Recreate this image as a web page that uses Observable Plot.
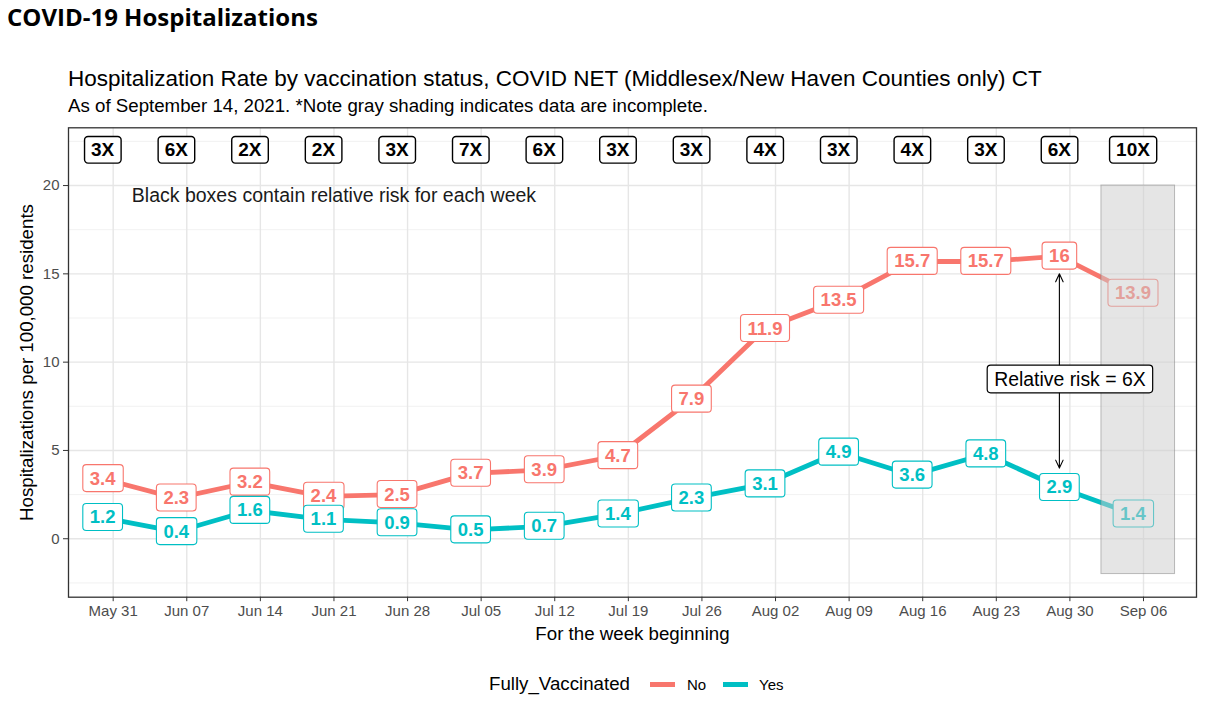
<!DOCTYPE html>
<html><head><meta charset="utf-8">
<script src="https://cdn.jsdelivr.net/npm/d3@7"></script>
<script src="https://cdn.jsdelivr.net/npm/@observablehq/plot@0.6"></script>
<style>
body{margin:0;background:#fff;width:1214px;height:719px;position:relative;overflow:hidden;font-family:"Liberation Sans",Arial,sans-serif;}
#header{position:relative;height:120px;}
.h0{position:absolute;left:7px;top:4.7px;font-family:"Open Sans",sans-serif;font-weight:700;font-size:24px;line-height:24px;color:#000;white-space:nowrap;}
.h1{position:absolute;left:68px;top:68.3px;font-size:22.5px;line-height:22.5px;color:#000;white-space:nowrap;}
.h2{position:absolute;left:68px;top:97.2px;font-size:18.7px;line-height:18.7px;color:#000;white-space:nowrap;}
#chart svg{display:block;}
.lg{position:absolute;white-space:nowrap;}
</style></head><body>
<div id="header">
  <div class="h0">COVID-19 Hospitalizations</div>
  <div class="h1">Hospitalization Rate by vaccination status, COVID NET (Middlesex/New Haven Counties only) CT</div>
  <div class="h2">As of September 14, 2021. *Note gray shading indicates data are incomplete.</div>
</div>
<div id="chart"></div>
<div id="legend">
  <div class="lg" style="left:489px;top:674.6px;font-size:18.7px;line-height:18.7px;color:#000;">Fully_Vaccinated</div>
  <div class="lg" style="left:650px;top:682px;width:25px;height:4.5px;background:#F8766D;"></div>
  <div class="lg" style="left:687px;top:676.5px;font-size:15px;line-height:15px;color:#000;">No</div>
  <div class="lg" style="left:722.5px;top:682px;width:25px;height:4.5px;background:#00BFC4;"></div>
  <div class="lg" style="left:759px;top:676.5px;font-size:15px;line-height:15px;color:#000;">Yes</div>
</div>
<script>
// ---- data ----
const weekDates = ["2021-05-30","2021-06-06","2021-06-13","2021-06-20","2021-06-27","2021-07-04","2021-07-11","2021-07-18","2021-07-25","2021-08-01","2021-08-08","2021-08-15","2021-08-22","2021-08-29","2021-09-05"];
const notVaccinated = [3.4, 2.3, 3.2, 2.4, 2.5, 3.7, 3.9, 4.7, 7.9, 11.9, 13.5, 15.7, 15.7, 16, 13.9];
const vaccinated    = [1.2, 0.4, 1.6, 1.1, 0.9, 0.5, 0.7, 1.4, 2.3, 3.1, 4.9, 3.6, 4.8, 2.9, 1.4];
const relativeRisk  = ["3X","6X","2X","2X","3X","7X","6X","3X","3X","4X","3X","4X","3X","6X","10X"];
const riskRowY = 22;
const xTickDates = ["2021-05-31","2021-06-07","2021-06-14","2021-06-21","2021-06-28","2021-07-05","2021-07-12","2021-07-19","2021-07-26","2021-08-02","2021-08-09","2021-08-16","2021-08-23","2021-08-30","2021-09-06"];
const yTicks = [0, 5, 10, 15, 20];
const yMinor = [-2.5, 2.5, 7.5, 12.5, 17.5, 22.5];
const xDomain = ["2021-05-26T18:00Z", "2021-09-11T01:00Z"];
const yDomain = [-3.31, 23.27];
const shade = [{x1: "2021-09-02", x2: "2021-09-09", y1: -2, y2: 20}];
const noteText = [{x: "2021-06-21", y: 19.4, text: "Black boxes contain relative risk for each week"}];
const riskNote = [{x: "2021-08-30", y: 9, text: "Relative risk = 6X"}];
const riskArrows = [{x: "2021-08-29", y1: 9, y2: 15}, {x: "2021-08-29", y1: 9, y2: 4}];
const colors = {No: "#F8766D", Yes: "#00BFC4"};

// ---- tables ----
const P = s => new Date(s.length === 10 ? s + "T00:00Z" : s);
const rows = weekDates.map((d, i) => ({date: P(d), no: notVaccinated[i], yes: vaccinated[i], rr: relativeRisk[i]}));
const series = [
  ...rows.map(r => ({date: r.date, value: r.no, status: "No"})),
  ...rows.map(r => ({date: r.date, value: r.yes, status: "Yes"}))
];
const ticks = xTickDates.map(P);
const fmt = d3.utcFormat("%b %d");

const chart = Plot.plot({
  width: 1214,
  height: 530,
  marginTop: 7.3,
  marginBottom: 53.3,
  marginLeft: 68,
  marginRight: 18,
  style: {fontFamily: "'Liberation Sans', Arial, sans-serif", fontSize: "15px", background: "#fff"},
  x: {type: "utc", domain: xDomain.map(P)},
  y: {domain: yDomain},
  color: {domain: ["No", "Yes"], range: [colors.No, colors.Yes]},
  marks: [
    Plot.ruleY(yMinor, {stroke: "#eeeeee", strokeWidth: 0.8}),
    Plot.ruleY(yTicks, {stroke: "#e6e6e6", strokeWidth: 1.4}),
    Plot.ruleX(ticks, {stroke: "#e6e6e6", strokeWidth: 1.4}),
    Plot.axisX({ticks: ticks, tickFormat: fmt, tickSize: 4.5, tickPadding: 4, fontSize: 15, fill: "#4d4d4d", stroke: "#333", label: null}),
    Plot.axisY({ticks: yTicks, tickSize: 5, tickPadding: 4, fontSize: 15, fill: "#4d4d4d", stroke: "#333", label: null}),
    Plot.line(series, {x: "date", y: "value", stroke: "status", strokeWidth: 4.8, strokeLinejoin: "round"}),
    Plot.text(rows, {x: "date", y: "no", text: d => String(d.no), fill: colors.No, fontWeight: "bold", fontSize: 18.5}),
    Plot.text(rows, {x: "date", y: "yes", text: d => String(d.yes), fill: colors.Yes, fontWeight: "bold", fontSize: 18.5}),
    Plot.text(rows, {x: "date", y: () => riskRowY, text: "rr", fill: "#000", fontWeight: "bold", fontSize: 19}),
    Plot.text(noteText, {x: d => P(d.x), y: "y", text: "text", fill: "#1a1a1a", fontSize: 19.5}),
    Plot.rect(shade, {x1: d => P(d.x1), x2: d => P(d.x2), y1: "y1", y2: "y2", fill: "#cccccc", fillOpacity: 0.5, stroke: "#808080", strokeOpacity: 0.5}),
    Plot.arrow(riskArrows, {x1: d => P(d.x), x2: d => P(d.x), y1: "y1", y2: "y2", stroke: "#000", strokeWidth: 1.1, headLength: 12, headAngle: 50}),
    Plot.text(riskNote, {x: d => P(d.x), y: "y", text: "text", fill: "#000", fontSize: 19.4}),
    Plot.text(["Hospitalizations per 100,000 residents"], {frameAnchor: "left", textAnchor: "middle", lineAnchor: "middle", rotate: -90, dx: -41, fontSize: 18.7, fill: "#000"}),
    Plot.text(["For the week beginning"], {frameAnchor: "bottom", textAnchor: "middle", lineAnchor: "middle", dy: 37.3, fontSize: 18.7, fill: "#000"}),
    Plot.frame({stroke: "#333", strokeWidth: 1.3})
  ]
});
document.getElementById("chart").append(chart);

// label boxes (ggplot geom_label look) around the texts drawn above
const textGroups = chart.querySelectorAll('g[aria-label="text"]');
const boxSpecs = [
  {stroke: colors.No, padX: 7, padY: 3, sw: 1.1},    // not vaccinated values
  {stroke: colors.Yes, padX: 7, padY: 3, sw: 1.1},   // vaccinated values
  {stroke: "#000", padX: 6.5, padY: 2.8, sw: 1.4},   // relative risk row
  null,                                              // note text
  {stroke: "#000", padX: 7, padY: 2.8, sw: 1.2},     // relative risk label
  null,
  null
];
const NS = "http://www.w3.org/2000/svg";
textGroups.forEach((g, i) => {
  const spec = boxSpecs[i];
  if (!spec) return;
  g.querySelectorAll("text").forEach(t => {
    const b = t.getBBox();
    const r = document.createElementNS(NS, "rect");
    r.setAttribute("x", b.x - spec.padX);
    r.setAttribute("y", b.y - spec.padY);
    r.setAttribute("width", b.width + 2 * spec.padX);
    r.setAttribute("height", b.height + 2 * spec.padY);
    r.setAttribute("rx", 3.5);
    r.setAttribute("fill", "#fff");
    r.setAttribute("stroke", spec.stroke);
    r.setAttribute("stroke-width", spec.sw);
    const tr = t.getAttribute("transform");
    if (tr) r.setAttribute("transform", tr);
    g.insertBefore(r, t);
  });
});
</script>
</body></html>
